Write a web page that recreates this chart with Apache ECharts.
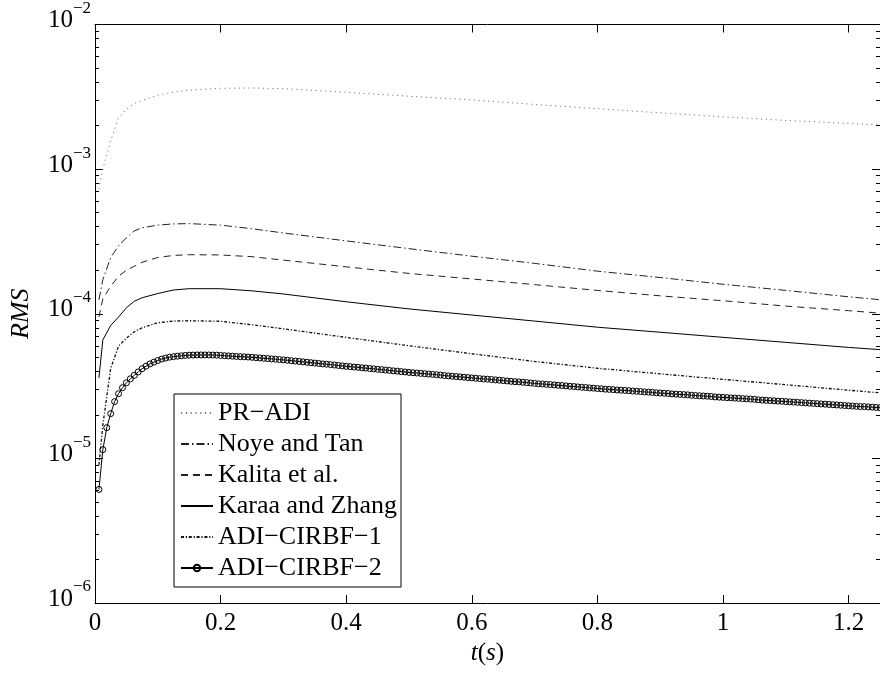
<!DOCTYPE html>
<html>
<head>
<meta charset="utf-8">
<script src="https://cdn.jsdelivr.net/npm/echarts@6.0.0/dist/echarts.min.js"></script>
<style>
  html, body { margin: 0; padding: 0; background: #fff; }
  #chart { width: 880px; height: 675px; }
</style>
</head>
<body>
<div id="chart"></div>
<script>
// Method names, in legend order
const seriesNames = ['PR\u2212ADI', 'Noye and Tan', 'Kalita et al.', 'Karaa and Zhang', 'ADI\u2212CIRBF\u22121', 'ADI\u2212CIRBF\u22122'];

// Sample times (s) for the five reference methods
const tCoarse = [0.00625, 0.0125, 0.025, 0.0375, 0.05, 0.0625, 0.075, 0.1, 0.125, 0.15, 0.2, 0.25, 0.3, 0.4, 0.5, 0.6, 0.7, 0.8, 0.9, 1.0, 1.1, 1.2, 1.25];

// RMS errors
const prAdi      = [7.3e-4, 1.0e-3, 1.57e-3, 2.25e-3, 2.6e-3, 2.84e-3, 2.99e-3, 3.24e-3, 3.41e-3, 3.52e-3, 3.62e-3, 3.64e-3, 3.60e-3, 3.40e-3, 3.19e-3, 3.01e-3, 2.80e-3, 2.62e-3, 2.45e-3, 2.30e-3, 2.17e-3, 2.07e-3, 2.02e-3];
const noyeTan    = [1.25e-4, 1.72e-4, 2.45e-4, 2.95e-4, 3.35e-4, 3.74e-4, 3.93e-4, 4.10e-4, 4.18e-4, 4.20e-4, 4.10e-4, 3.87e-4, 3.62e-4, 3.19e-4, 2.82e-4, 2.50e-4, 2.23e-4, 1.97e-4, 1.78e-4, 1.60e-4, 1.45e-4, 1.31e-4, 1.25e-4];
const kalita     = [9.5e-5, 1.27e-4, 1.55e-4, 1.82e-4, 2.0e-4, 2.13e-4, 2.27e-4, 2.45e-4, 2.53e-4, 2.56e-4, 2.55e-4, 2.48e-4, 2.35e-4, 2.11e-4, 1.90e-4, 1.74e-4, 1.59e-4, 1.45e-4, 1.33e-4, 1.23e-4, 1.13e-4, 1.05e-4, 1.01e-4];
const karaaZhang = [3.6e-5, 6.6e-5, 8.3e-5, 9.5e-5, 1.10e-4, 1.22e-4, 1.29e-4, 1.38e-4, 1.46e-4, 1.49e-4, 1.49e-4, 1.44e-4, 1.37e-4, 1.21e-4, 1.08e-4, 9.8e-5, 8.9e-5, 8.07e-5, 7.45e-5, 6.87e-5, 6.34e-5, 5.85e-5, 5.65e-5];
const adiCirbf1  = [9.0e-6, 1.7e-5, 4.2e-5, 5.97e-5, 6.78e-5, 7.5e-5, 8.0e-5, 8.67e-5, 8.9e-5, 8.95e-5, 8.87e-5, 8.39e-5, 7.87e-5, 6.86e-5, 6.01e-5, 5.29e-5, 4.68e-5, 4.20e-5, 3.84e-5, 3.52e-5, 3.23e-5, 2.96e-5, 2.84e-5];

// ADI-CIRBF-2 at every time step (dt = 0.00625 s), RMS in units of 1e-5
const dt = 0.00625;
const adiCirbf2Scaled = [
  0.61, 1.15, 1.63, 2.04, 2.47, 2.80, 3.08, 3.33, 3.55, 3.75, 3.96, 4.17, 4.34, 4.50, 4.63, 4.75,
  4.86, 4.94, 5.01, 5.05, 5.09, 5.12, 5.15, 5.17, 5.18, 5.19, 5.19, 5.19, 5.19, 5.18, 5.17, 5.15,
  5.13, 5.11, 5.09, 5.07, 5.05, 5.04, 5.02, 5.00, 4.97, 4.95, 4.92, 4.90, 4.87, 4.85, 4.82, 4.80,
  4.77, 4.74, 4.71, 4.68, 4.65, 4.62, 4.59, 4.56, 4.53, 4.50, 4.48, 4.45, 4.42, 4.39, 4.36, 4.33,
  4.31, 4.28, 4.26, 4.23, 4.21, 4.18, 4.16, 4.13, 4.11, 4.08, 4.06, 4.03, 4.01, 3.98, 3.96, 3.93,
  3.91, 3.89, 3.87, 3.85, 3.83, 3.81, 3.79, 3.77, 3.74, 3.72, 3.70, 3.68, 3.66, 3.64, 3.62, 3.60,
  3.58, 3.56, 3.54, 3.53, 3.51, 3.49, 3.47, 3.45, 3.43, 3.41, 3.39, 3.38, 3.36, 3.34, 3.32, 3.30,
  3.28, 3.27, 3.25, 3.24, 3.22, 3.20, 3.19, 3.17, 3.15, 3.14, 3.12, 3.10, 3.09, 3.07, 3.06, 3.04,
  3.03, 3.01, 3.00, 2.99, 2.97, 2.96, 2.95, 2.94, 2.92, 2.91, 2.90, 2.88, 2.87, 2.86, 2.84, 2.83,
  2.82, 2.81, 2.79, 2.78, 2.77, 2.76, 2.75, 2.73, 2.72, 2.71, 2.70, 2.69, 2.68, 2.66, 2.65, 2.64,
  2.63, 2.62, 2.61, 2.60, 2.59, 2.58, 2.57, 2.56, 2.54, 2.53, 2.52, 2.51, 2.50, 2.49, 2.48, 2.47,
  2.46, 2.45, 2.44, 2.43, 2.42, 2.41, 2.40, 2.39, 2.38, 2.37, 2.36, 2.35, 2.34, 2.33, 2.32, 2.31,
  2.30, 2.29, 2.28, 2.28, 2.27, 2.26, 2.25, 2.24
];

// Axis ticks
const xTicks = [0, 0.2, 0.4, 0.6, 0.8, 1, 1.2];
const yDecades = [-6, -5, -4, -3, -2];          // exponents of the labelled decades
const yMinorMantissas = [2, 3, 4, 5, 6, 7, 8, 9];

const X_MIN = 0, X_MAX = 1.25;
const FONT = '"Liberation Serif", "Times New Roman", "DejaVu Serif", serif';

const tFine = adiCirbf2Scaled.map((_, i) => (i + 1) * dt);
const adiCirbf2 = adiCirbf2Scaled.map(v => v * 1e-5);

// minor tick positions in log10 space
const yMinorLog = [];
yDecades.slice(0, -1).forEach(e => yMinorMantissas.forEach(m => yMinorLog.push(e + Math.log10(m))));

const pairs = (t, v) => t.map((x, i) => [x, v[i]]);

function tickAxis(position, values, length, showLine, withLabels) {
  const ax = {
    type: 'value', position: position, min: yDecades[0], max: yDecades[yDecades.length - 1],
    axisLine: { show: showLine, onZero: false, lineStyle: { color: '#000', width: 1 } },
    axisTick: { show: true, inside: true, length: length, customValues: values, lineStyle: { color: '#000', width: 1 } },
    axisLabel: { show: false },
    splitLine: { show: false }
  };
  if (withLabels) {
    ax.axisLabel = {
      show: true, customValues: yDecades, margin: 4, color: '#000',
      formatter: v => '{b|10}{e|\u2212' + Math.abs(Math.round(v)) + '}',
      rich: {
        b: { fontFamily: FONT, fontSize: 25, lineHeight: 25, color: '#000', verticalAlign: 'bottom', padding: [0, 0, 4, 0] },
        e: { fontFamily: FONT, fontSize: 17, lineHeight: 17, color: '#000', verticalAlign: 'bottom', padding: [0, 0, 20, 0] }
      }
    };
    ax.name = 'RMS';
    ax.nameLocation = 'middle';
    ax.nameRotate = 90;
    ax.nameGap = 61;
    ax.nameTextStyle = { fontFamily: FONT, fontStyle: 'italic', fontSize: 26, color: '#000' };
  }
  return ax;
}

function xFrameAxis(position, withLabels) {
  const ax = {
    type: 'value', position: position, min: X_MIN, max: X_MAX,
    axisLine: { show: true, onZero: false, lineStyle: { color: '#000', width: 1 } },
    axisTick: { show: true, inside: true, length: 8, customValues: xTicks, lineStyle: { color: '#000', width: 1 } },
    axisLabel: { show: false },
    splitLine: { show: false }
  };
  if (withLabels) {
    ax.axisLabel = { show: true, customValues: xTicks, margin: 8, color: '#000', fontFamily: FONT, fontSize: 25 };
    ax.name = '{i|t}{n|(}{i|s}{n|)}';
    ax.nameLocation = 'middle';
    ax.nameGap = 27;
    ax.nameTextStyle = {
      rich: {
        i: { fontFamily: FONT, fontStyle: 'italic', fontSize: 25, color: '#000' },
        n: { fontFamily: FONT, fontSize: 25, color: '#000' }
      }
    };
  }
  return ax;
}

const lineSeries = (name, data, lineStyle) => ({
  name: name, type: 'line', xAxisIndex: 0, yAxisIndex: 0,
  data: data, showSymbol: false, symbol: 'none',
  lineStyle: Object.assign({ width: 1, color: '#000' }, lineStyle),
  itemStyle: { color: lineStyle.color || '#000' },
  emphasis: { disabled: true }
});

// Legend entries: plain line samples for all but the marker series
const hiddenMarker = { color: 'rgba(0,0,0,0)', borderColor: 'rgba(0,0,0,0)', borderWidth: 0 };
const legendData = seriesNames.map((n, i) => i < seriesNames.length - 1 ? { name: n, itemStyle: hiddenMarker } : { name: n });

const chart = echarts.init(document.getElementById('chart'), null, { renderer: 'canvas' });
chart.setOption({
  animation: false,
  backgroundColor: '#fff',
  grid: { left: 92, right: -6, top: 20, bottom: 72, containLabel: false },
  xAxis: [xFrameAxis('bottom', true), xFrameAxis('top', false)],
  yAxis: [
    { type: 'log', logBase: 10, min: 1e-6, max: 1e-2, show: false },
    tickAxis('left', yDecades, 8, true, true),
    tickAxis('left', yMinorLog, 4, false, false),
    tickAxis('right', yDecades, 8, true, false),
    tickAxis('right', yMinorLog, 4, false, false)
  ],
  legend: {
    orient: 'vertical', left: 174, top: 394,
    itemWidth: 32, itemHeight: 8, itemGap: 5,
    padding: [6, 4, 6, 6],
    borderColor: '#000', borderWidth: 1, backgroundColor: '#fff',
    textStyle: { fontFamily: FONT, fontSize: 26, lineHeight: 26, color: '#000' },
    data: legendData
  },
  series: [
    lineSeries(seriesNames[0], pairs(tCoarse, prAdi), { color: '#7a7a7a', type: [1.2, 3.6] }),
    lineSeries(seriesNames[1], pairs(tCoarse, noyeTan), { color: '#222', type: [8, 3, 1.5, 3] }),
    lineSeries(seriesNames[2], pairs(tCoarse, kalita), { color: '#222', type: [7, 5] }),
    lineSeries(seriesNames[3], pairs(tCoarse, karaaZhang), { color: '#000' }),
    lineSeries(seriesNames[4], pairs(tCoarse, adiCirbf1), { color: '#111', width: 1.3, type: [3, 1.8, 1.2, 1.8] }),
    {
      name: seriesNames[5], type: 'line', xAxisIndex: 0, yAxisIndex: 0,
      data: pairs(tFine, adiCirbf2),
      symbol: 'circle', symbolSize: 6, showSymbol: true, showAllSymbol: true,
      lineStyle: { color: '#000', width: 1 },
      itemStyle: { color: 'rgba(255,255,255,0)', borderColor: '#000', borderWidth: 1 },
      emphasis: { disabled: true }
    }
  ]
});
</script>
</body>
</html>
